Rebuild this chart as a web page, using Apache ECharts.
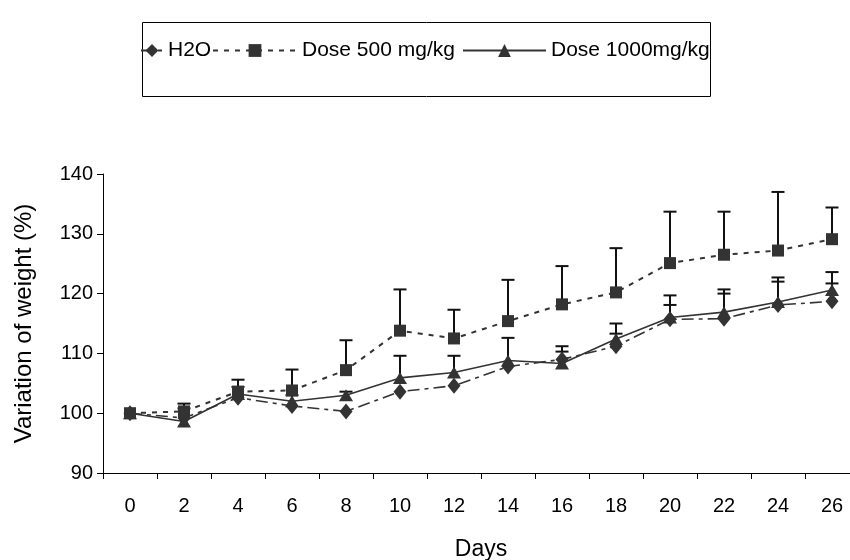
<!DOCTYPE html>
<html>
<head>
<meta charset="utf-8">
<script src="https://cdn.jsdelivr.net/npm/echarts@6/dist/echarts.min.js"></script>
<style>html,body{margin:0;padding:0;background:#fff}#c{width:850px;height:560px}</style>
</head>
<body>
<div id="c"></div>
<script>
var days = ['0','2','4','6','8','10','12','14','16','18','20','22','24','26'];
var yTicks = [90, 100, 110, 120, 130, 140];
var h2o = [100, 99.2, 102.6, 101.2, 100.3, 103.6, 104.6, 107.8, 109.0, 111.2, 115.7, 115.8, 118.1, 118.7];
var h2oUpper = [null, null, null, null, null, null, null, null, 111.2, 113.3, 118.1, 120.0, 122.0, 121.7];
var dose500 = [100, 100.3, 103.6, 103.8, 107.2, 113.8, 112.5, 115.4, 118.2, 120.2, 125.1, 126.5, 127.2, 129.1];
var dose500Upper = [null, 101.6, 105.6, 107.3, 112.2, 120.7, 117.3, 122.3, 124.6, 127.6, 133.7, 133.7, 137.0, 134.4];
var dose1000 = [100, 98.6, 103.2, 102.0, 103.0, 105.9, 106.8, 108.8, 108.3, 112.4, 116.0, 116.9, 118.6, 120.6];
var dose1000Upper = [null, 100.8, 104.4, 103.0, 103.6, 109.6, 109.6, 112.6, 110.3, 115.0, 119.7, 120.7, 122.7, 123.6];
var seriesNames = ['H2O', 'Dose 500 mg/kg', 'Dose 1000mg/kg'];

var FONT = 'Liberation Sans, Arial, sans-serif';
var DARK = '#333333';

function errData(vals, ups) {
  var out = [];
  for (var i = 0; i < vals.length; i++) {
    if (ups[i] != null) out.push([i, vals[i], ups[i]]);
  }
  return out;
}
function errSeries(vals, ups) {
  return {
    type: 'custom',
    data: errData(vals, ups),
    z: 1,
    silent: true,
    renderItem: function (params, api) {
      var lo = api.coord([api.value(0), api.value(1)]);
      var hi = api.coord([api.value(0), api.value(2)]);
      var hw = 6.5;
      return {
        type: 'group',
        children: [
          {type: 'line', shape: {x1: lo[0], y1: lo[1], x2: hi[0], y2: hi[1]}, style: {stroke: '#111', lineWidth: 2}},
          {type: 'line', shape: {x1: hi[0] - hw, y1: hi[1], x2: hi[0] + hw, y2: hi[1]}, style: {stroke: '#111', lineWidth: 2}}
        ]
      };
    }
  };
}

var chart = echarts.init(document.getElementById('c'), null, {renderer: 'canvas'});
var legendText = {fontFamily: FONT, fontSize: 21, color: '#000'};
chart.setOption({
  animation: false,
  backgroundColor: '#fff',
  graphic: [{
    type: 'rect', left: 140, top: 20, shape: {width: 568, height: 74},
    style: {fill: 'none', stroke: '#000', lineWidth: 1}, z: -1
  }],
  legend: [
    {data: [seriesNames[0]], left: 140, top: 40, padding: 0, itemWidth: 22, itemHeight: 16, itemGap: 5, textStyle: legendText},
    {data: [seriesNames[1]], left: 212, top: 40, padding: 0, itemWidth: 84, itemHeight: 16, textStyle: legendText},
    {data: [seriesNames[2]], left: 462, top: 40, padding: 0, itemWidth: 83, itemHeight: 16, textStyle: legendText}
  ],
  grid: {left: 103, top: 174, width: 756, height: 299, containLabel: false, outerBoundsMode: 'none'},
  xAxis: {
    type: 'category',
    data: days,
    boundaryGap: true,
    name: 'Days',
    nameLocation: 'middle',
    nameGap: 65,
    nameTextStyle: {fontFamily: FONT, fontSize: 23, color: '#000'},
    axisLine: {lineStyle: {color: '#000', width: 1}},
    axisTick: {show: true, length: 6, lineStyle: {color: '#000'}},
    axisLabel: {fontFamily: FONT, fontSize: 20, color: '#000', margin: 23}
  },
  yAxis: {
    type: 'value',
    min: yTicks[0],
    max: yTicks[yTicks.length - 1],
    interval: 10,
    name: 'Variation of weight (%)',
    nameLocation: 'middle',
    nameGap: 67,
    nameTextStyle: {fontFamily: FONT, fontSize: 24, color: '#000'},
    axisLine: {show: true, lineStyle: {color: '#000', width: 1}},
    axisTick: {show: true, length: 6, lineStyle: {color: '#000'}},
    splitLine: {show: false},
    axisLabel: {fontFamily: FONT, fontSize: 20, color: '#000', margin: 10}
  },
  series: [
    errSeries(h2o, h2oUpper),
    errSeries(dose500, dose500Upper),
    errSeries(dose1000, dose1000Upper),
    {
      name: seriesNames[0], type: 'line', data: h2o, z: 3,
      symbol: 'diamond', symbolSize: [13, 16],
      lineStyle: {color: DARK, width: 1.6, type: [12, 5, 4, 5]},
      itemStyle: {color: DARK}
    },
    {
      name: seriesNames[1], type: 'line', data: dose500, z: 3,
      symbol: 'rect', symbolSize: 12,
      lineStyle: {color: DARK, width: 2, type: [5, 6]},
      itemStyle: {color: DARK}
    },
    {
      name: seriesNames[2], type: 'line', data: dose1000, z: 3,
      symbol: 'triangle', symbolSize: [14, 12],
      lineStyle: {color: DARK, width: 1.6, type: 'solid'},
      itemStyle: {color: DARK}
    }
  ]
});
</script>
</body>
</html>
